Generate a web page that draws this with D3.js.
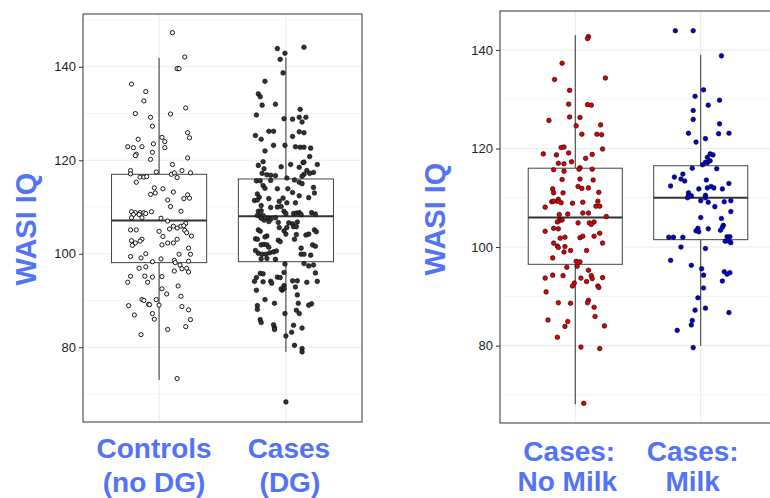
<!DOCTYPE html>
<html><head><meta charset="utf-8">
<script src="https://cdn.jsdelivr.net/npm/d3@7"></script>
<style>
html,body{margin:0;padding:0;background:#fff;}
svg{display:block;font-family:"Liberation Sans",Arial,Helvetica,sans-serif;}
</style></head>
<body>
<svg id="c" width="770" height="498"></svg>
<script>
// ---------- data ----------
const leftCats = ["Controls (no DG)", "Cases (DG)"];
const rightCats = ["Cases: No Milk", "Cases: Milk"];
const leftLabels = [["Controls", "(no DG)"], ["Cases", "(DG)"]];
const rightLabels = [["Cases:", "No Milk"], ["Cases:", "Milk"]];
const yTicks = [80, 100, 120, 140];
const yMinor = [70, 90, 110, 130, 150];
const axisTitle = "WASI IQ";

// box statistics: [lower whisker, Q1, median, Q3, upper whisker]
const statsControls = [73, 98.1, 107.1, 117, 141.9];
const statsCasesDG = [79, 98.3, 108, 116, 142];
const statsNoMilk = [68.1, 96.5, 106, 116, 143];
const statsMilk = [80, 101.5, 110, 116.5, 139];

// points: [jitter (fraction of box width), WASI IQ]
const ptsControls = [[0.14,147.3],[0.27,142.1],[0.19,139.6],[0.21,139.6],[-0.29,136.3],[-0.14,134.7],[-0.16,132.7],[0.28,131.2],[-0.25,130.0],[0.12,129.9],[-0.09,129.2],[-0.07,127.3],[0.30,125.9],[-0.22,124.5],[0.03,124.9],[0.32,124.8],[0.06,124.0],[-0.06,123.5],[-0.33,122.9],[-0.27,122.7],[-0.18,122.9],[0.06,122.7],[-0.07,121.7],[-0.24,121.3],[-0.25,121.0],[-0.09,120.2],[0.30,120.5],[0.14,119.1],[-0.30,117.8],[-0.30,117.1],[-0.03,117.5],[0.24,117.8],[0.33,117.3],[0.13,117.0],[0.16,117.3],[0.19,116.3],[-0.20,116.4],[-0.16,116.4],[-0.13,116.5],[-0.24,115.3],[-0.05,114.1],[0.04,113.9],[0.15,113.2],[-0.09,112.7],[-0.04,113.0],[0.30,112.6],[0.26,111.8],[0.32,111.9],[0.09,111.5],[0.12,110.1],[0.23,109.1],[-0.29,109.0],[-0.25,108.8],[-0.20,108.8],[-0.16,108.8],[-0.08,109.0],[-0.27,108.4],[-0.21,108.4],[-0.14,108.6],[-0.29,107.7],[-0.18,107.7],[0.02,107.6],[0.09,107.0],[0.28,106.5],[0.15,105.9],[0.19,105.5],[0.23,105.9],[0.26,106.0],[0.11,105.3],[-0.30,105.1],[-0.24,105.1],[0,104.8],[0.27,105.0],[0.29,104.5],[0.04,103.7],[0.34,103.8],[0.19,103.1],[-0.18,103.1],[-0.20,102.7],[-0.29,102.8],[-0.28,101.8],[-0.25,102.3],[0.03,101.9],[0.09,102.3],[0.15,102.3],[0.31,101.2],[-0.30,99.4],[-0.19,99.1],[-0.14,100.0],[0.21,99.9],[0.33,99.9],[-0.07,98.3],[0.02,98.9],[0.16,98.6],[0.17,98.1],[0.31,98.4],[0.22,97.6],[-0.21,96.9],[-0.14,97.2],[0.24,96.8],[0.29,96.9],[0.16,96.3],[0.31,96.1],[-0.30,95.2],[-0.15,95.2],[-0.07,95.0],[0.03,95.1],[-0.33,93.9],[-0.12,93.9],[0.20,93.1],[0.03,92.5],[0.08,91.4],[0.23,90.9],[-0.18,90.2],[-0.16,90.0],[-0.03,90.2],[-0.11,89.2],[-0.10,89.1],[0,89.0],[-0.32,88.9],[0.24,88.7],[0.31,88.0],[-0.07,87.2],[-0.26,86.9],[-0.05,86.0],[0.33,85.9],[0.28,84.4],[0.09,83.8],[-0.19,82.7],[0.19,73.3]];

const ptsCasesDG = [[-0.09,143.9],[-0.01,142.9],[0.19,144.2],[-0.06,141.6],[-0.03,138.7],[-0.22,136.9],[-0.29,134.2],[-0.27,133.6],[-0.25,131.8],[-0.11,132.0],[0.15,130.9],[-0.31,129.7],[-0.02,128.9],[0.07,128.8],[0.14,129.2],[0.21,129.2],[0.17,128.2],[-0.18,126.2],[-0.13,126.2],[0.14,126.1],[0.19,125.9],[-0.32,125.3],[-0.26,124.5],[0.07,125.1],[-0.13,123.2],[-0.01,123.2],[0.10,122.9],[0.15,122.8],[0.19,122.8],[0.26,122.6],[-0.22,122.0],[0.25,120.8],[-0.24,119.7],[0.18,119.5],[0.19,119.6],[-0.29,118.9],[0.05,119.1],[0.33,119.1],[-0.05,118.6],[-0.23,118.2],[-0.25,117.2],[0.14,118.5],[0.22,117.8],[0.29,117.4],[0.25,117.2],[0.19,117.0],[0.17,116.6],[-0.20,116.9],[-0.16,116.8],[-0.11,116.7],[0.01,116.2],[0.09,115.8],[-0.31,115.6],[-0.27,115.6],[0.14,115.3],[0.17,115.0],[-0.16,115.7],[-0.24,114.6],[-0.22,114.0],[-0.09,113.9],[0.02,113.9],[0.29,114.2],[0.30,113.0],[0.07,113.1],[-0.30,112.8],[-0.28,112.1],[0.14,112.4],[0.24,112.0],[-0.03,111.9],[-0.18,111.8],[-0.33,111.4],[-0.30,111.5],[-0.07,111.2],[0.01,110.9],[0.10,110.9],[-0.26,110.3],[-0.16,109.9],[-0.09,110.0],[-0.05,110.1],[-0.29,109.1],[-0.26,109.2],[-0.02,109.1],[0,108.6],[0.08,108.6],[0.11,108.7],[0.14,108.8],[0.27,108.8],[0.31,108.5],[-0.30,108.2],[-0.27,108.1],[-0.24,108.2],[0.16,108.4],[-0.11,107.7],[-0.19,107.6],[-0.16,107.4],[-0.23,107.2],[-0.18,106.9],[-0.26,107.6],[-0.08,106.7],[0.03,106.6],[0.07,106.4],[-0.07,105.6],[0.01,105.6],[0.12,106.8],[0.08,105.8],[0.11,105.8],[-0.29,105.1],[-0.27,104.8],[-0.02,104.9],[0.30,105.1],[0.32,104.7],[0.11,104.1],[0.21,104.0],[0.24,104.2],[-0.20,103.8],[-0.22,103.6],[0,104.2],[-0.32,103.2],[-0.30,103.1],[-0.08,102.9],[-0.06,102.6],[0.09,103.1],[-0.26,101.9],[-0.23,102.0],[-0.20,101.9],[0.28,101.9],[0.31,101.6],[-0.18,101.4],[0.16,101.2],[-0.32,100.7],[-0.29,100.1],[-0.25,99.9],[-0.21,99.9],[-0.17,100.2],[-0.13,100.4],[-0.10,100.6],[-0.26,98.9],[-0.20,99.0],[-0.11,98.8],[0.16,99.9],[0.19,99.9],[0.26,99.7],[0.19,97.9],[0.24,97.4],[0.29,97.6],[-0.01,97.8],[0.31,95.9],[-0.27,95.8],[-0.24,95.7],[-0.31,94.9],[-0.33,94.1],[-0.24,94.0],[-0.16,94.1],[-0.15,93.7],[-0.09,95.0],[-0.06,94.9],[-0.02,96.0],[-0.02,93.2],[-0.04,92.2],[-0.05,92.5],[-0.02,92.6],[0.07,94.2],[0.12,94.2],[0.33,94.1],[0.22,93.9],[0.10,92.9],[-0.31,92.2],[0.12,91.2],[-0.22,90.2],[-0.12,89.4],[0.13,89.4],[0.27,89.3],[0.24,89.0],[-0.30,88.9],[-0.30,88.1],[0.11,87.9],[0.14,87.2],[-0.01,87.2],[-0.27,85.9],[-0.26,85.3],[-0.13,84.8],[-0.12,84.2],[-0.12,83.8],[0.08,84.7],[0.17,84.1],[0.06,83.2],[0,82.4],[0.09,80.4],[0.17,79.7],[0.17,79.0],[0,68.3]];

const ptsNoMilk = [[0.14,142.7],[0.13,142.3],[-0.14,137.3],[-0.22,134.0],[0.32,134.3],[-0.06,131.8],[-0.07,129.0],[0.13,128.9],[0.17,128.8],[-0.06,126.4],[0.05,126.3],[-0.28,125.7],[0.01,124.6],[0.27,124.8],[0.07,122.9],[0.23,122.9],[0.28,122.8],[-0.15,120.2],[-0.12,120.3],[0.29,119.9],[-0.34,118.9],[-0.20,118.7],[-0.07,119.1],[0.18,118.8],[0.11,118.0],[-0.04,117.3],[-0.18,117.0],[-0.12,116.9],[0.05,116.1],[0.04,115.8],[-0.23,115.7],[-0.12,115.4],[0.18,115.8],[-0.14,113.7],[0.05,113.8],[0.19,113.6],[-0.24,111.8],[-0.23,111.0],[0.03,112.3],[0.07,111.9],[0.14,112.0],[0.25,111.1],[-0.13,111.0],[-0.18,109.7],[-0.19,109.3],[-0.25,109.2],[-0.23,109.3],[-0.15,109.0],[-0.03,108.9],[0.08,109.1],[0.24,109.3],[-0.32,108.1],[0.22,108.3],[0.26,108.3],[0.08,106.9],[0.14,106.9],[-0.17,106.6],[-0.08,106.7],[0.33,106.2],[-0.17,105.4],[-0.14,105.5],[-0.19,105.1],[0.03,104.9],[0.15,104.9],[0.20,105.1],[0.17,104.6],[-0.32,103.2],[-0.23,103.8],[-0.18,103.7],[0.05,101.9],[0.08,102.2],[-0.16,101.8],[-0.11,102.0],[0.20,102.2],[0.26,102.8],[0.29,100.8],[-0.23,100.8],[-0.19,100.2],[-0.18,99.9],[-0.11,100.1],[-0.12,99.0],[-0.05,99.3],[0.12,99.3],[-0.24,97.8],[0.01,97.1],[0.05,97.0],[0.02,96.1],[-0.09,95.9],[0.14,95.3],[-0.24,94.3],[-0.13,94.2],[0.17,94.2],[0.18,93.6],[-0.32,93.7],[0.06,93.7],[0.29,93.8],[0.12,93.0],[-0.01,92.7],[-0.03,92.1],[0.24,92.1],[0.25,91.8],[-0.31,90.9],[0.14,89.2],[0.13,88.7],[-0.18,88.7],[-0.05,88.6],[0.20,87.8],[-0.29,85.2],[-0.08,84.9],[0.21,85.9],[-0.11,83.9],[0.31,84.0],[-0.19,81.7],[0.06,79.7],[0.26,79.4],[0.09,68.3]];

const ptsMilk = [[-0.27,143.9],[-0.08,143.9],[0.22,138.8],[0.03,131.9],[-0.06,130.6],[0.20,129.8],[0.08,128.8],[-0.08,127.7],[-0.08,125.9],[0.20,125.0],[-0.13,123.1],[0.19,123.0],[0.30,123.1],[0.05,122.0],[-0.05,121.3],[0.10,118.9],[0.13,118.7],[0.07,118.2],[0.10,117.5],[0.07,117.1],[0.05,117.2],[0.02,116.7],[-0.09,116.0],[0.17,115.9],[-0.19,114.8],[-0.28,114.2],[-0.21,113.8],[-0.17,113.4],[0.06,113.6],[0.30,112.9],[-0.32,112.4],[-0.02,111.8],[0.07,112.0],[0.11,112.3],[0.14,112.0],[0.23,111.8],[-0.13,111.0],[-0.13,110.5],[-0.10,110.4],[-0.14,110.0],[0.05,110.5],[0.05,110.0],[0,109.4],[0.08,109.1],[0.25,109.2],[0.32,109.4],[0.15,108.2],[0.32,107.2],[0,106.0],[0.22,105.8],[0.24,104.4],[0.23,104.0],[-0.03,103.8],[-0.05,103.3],[-0.02,103.1],[0.08,103.7],[0.21,103.4],[-0.34,102.0],[-0.29,102.0],[-0.19,102.0],[0.26,101.2],[0.30,101.2],[0.32,100.9],[0.28,102.1],[0.31,102.1],[-0.21,100.0],[0.05,99.7],[-0.32,97.3],[-0.10,96.3],[0.01,95.6],[0.03,94.3],[0.25,95.0],[0.28,94.5],[0.31,94.8],[0.23,93.1],[0.03,91.7],[-0.03,89.7],[-0.06,87.2],[0.05,87.6],[0.30,86.7],[-0.09,85.1],[-0.10,84.2],[-0.25,83.1],[-0.08,79.6]];

// ---------- drawing ----------
const svg = d3.select("#c");
const BLUE = "#5273f7";

function panel(opt) {
  const {x0, x1, y0, y1, yDomain, cats, labels, stats, pts, fills, labelDx, labelY, titleX, titleY} = opt;
  const g = svg.append("g");
  const x = d3.scalePoint().domain(cats).range([x0, x1]).padding(0.6);
  const y = d3.scaleLinear().domain(yDomain).range([y1, y0]);
  const bw = x.step() * 0.75;

  // grid
  g.selectAll(".gmin").data(yMinor.filter(v => v > yDomain[0] && v < yDomain[1])).join("line")
    .attr("x1", x0).attr("x2", x1).attr("y1", d => y(d)).attr("y2", d => y(d))
    .attr("stroke", "#f2f2f2").attr("stroke-width", 0.8);
  g.selectAll(".gmaj").data(yTicks).join("line")
    .attr("x1", x0).attr("x2", x1).attr("y1", d => y(d)).attr("y2", d => y(d))
    .attr("stroke", "#ebebeb").attr("stroke-width", 1.1);
  g.selectAll(".gv").data(cats).join("line")
    .attr("x1", d => x(d)).attr("x2", d => x(d)).attr("y1", y0).attr("y2", y1)
    .attr("stroke", "#ebebeb").attr("stroke-width", 1.1);

  // boxplots
  cats.forEach((c, i) => {
    const s = stats[i], cx = x(c);
    g.append("line").attr("x1", cx).attr("x2", cx).attr("y1", y(s[3])).attr("y2", y(s[4]))
      .attr("stroke", "#333").attr("stroke-width", 1);
    g.append("line").attr("x1", cx).attr("x2", cx).attr("y1", y(s[1])).attr("y2", y(s[0]))
      .attr("stroke", "#333").attr("stroke-width", 1);
    g.append("rect").attr("x", cx - bw / 2).attr("width", bw)
      .attr("y", y(s[3])).attr("height", y(s[1]) - y(s[3]))
      .attr("fill", "#fff").attr("stroke", "#444").attr("stroke-width", 1);
    g.append("line").attr("x1", cx - bw / 2).attr("x2", cx + bw / 2).attr("y1", y(s[2])).attr("y2", y(s[2]))
      .attr("stroke", "#333").attr("stroke-width", 2);
  });

  // points
  cats.forEach((c, i) => {
    const cx = x(c);
    g.append("g").selectAll("circle").data(pts[i]).join("circle")
      .attr("cx", d => cx + d[0] * bw).attr("cy", d => y(d[1]))
      .attr("r", fills[i] === "#fff" ? 2.1 : 2.3)
      .attr("fill", fills[i]).attr("stroke", "#000")
      .attr("stroke-width", fills[i] === "#fff" ? 0.9 : 0.6);
  });

  // border
  g.append("rect").attr("x", x0).attr("y", y0).attr("width", x1 - x0).attr("height", y1 - y0)
    .attr("fill", "none").attr("stroke", "#333").attr("stroke-width", 1);

  // y axis
  const ax = g.append("g").attr("transform", `translate(${x0},0)`)
    .call(d3.axisLeft(y).tickValues(yTicks).tickSize(4).tickPadding(3));
  ax.select(".domain").remove();
  ax.selectAll("line").attr("stroke", "#333");
  ax.selectAll("text").attr("fill", "#222").style("font-size", "13px")
    .style("font-family", '"Liberation Sans",Arial,sans-serif');

  // category labels
  cats.forEach((c, i) => {
    labels[i].forEach((t, k) => {
      svg.append("text").attr("x", x(c) + labelDx[i][k]).attr("y", labelY[k])
        .attr("text-anchor", "middle").attr("fill", BLUE)
        .style("font-size", "28px").style("font-weight", "bold").text(t);
    });
  });

  // axis title
  svg.append("text").attr("transform", `translate(${titleX},${titleY}) rotate(-90)`)
    .attr("text-anchor", "middle").attr("fill", BLUE)
    .style("font-size", "29px").style("font-weight", "bold").text(axisTitle);
  return {x, y};
}

panel({x0: 83, x1: 362, y0: 14, y1: 422, yDomain: [64, 151.3],
  cats: leftCats, labels: leftLabels, stats: [statsControls, statsCasesDG],
  pts: [ptsControls, ptsCasesDG], fills: ["#fff", "#333"],
  labelDx: [[-5, -5], [3, 4]], labelY: [458, 492], titleX: 36, titleY: 229});

// faint original axis title in right panel (partly hidden)
svg.append("clipPath").attr("id", "clipT").append("rect")
  .attr("x", 460.5).attr("y", 180).attr("width", 20).attr("height", 80);
svg.append("text").attr("clip-path", "url(#clipT)")
  .attr("transform", "translate(465,217) rotate(-90)")
  .attr("text-anchor", "middle").attr("fill", "#222")
  .style("font-size", "10px").text(axisTitle);

panel({x0: 500, x1: 776, y0: 11, y1: 423, yDomain: [64.3, 147.9],
  cats: rightCats, labels: rightLabels, stats: [statsNoMilk, statsMilk],
  pts: [ptsNoMilk, ptsMilk], fills: ["#e00000", "#0000d8"],
  labelDx: [[-6, -8], [-8, -8]], labelY: [461, 491], titleX: 445, titleY: 219});
</script>
</body></html>
